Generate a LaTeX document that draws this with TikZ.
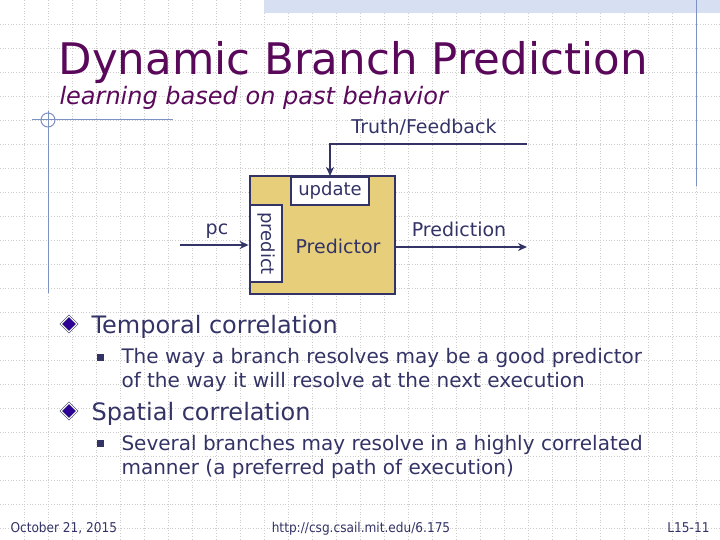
\documentclass[tikz,border=0pt]{standalone}
\usepackage{fontspec}
\setmainfont{DejaVu Sans}
\newfontfamily\footfont{DejaVu Sans Condensed}
\usetikzlibrary{positioning,arrows.meta,shapes.geometric}

\definecolor{titlepurple}{RGB}{90,8,90}
\definecolor{navy}{RGB}{51,51,102}
\definecolor{khaki}{RGB}{230,206,122}
\definecolor{rulerblue}{RGB}{125,145,195}
\definecolor{bandblue}{RGB}{214,224,242}
\definecolor{bulletblue}{RGB}{45,0,150}
\definecolor{gridgray}{RGB}{205,205,205}

\tikzset{
    gridline/.style  = {gridgray, dotted, line width=0.7bp},
    ruler/.style     = {rulerblue, line width=1bp},
    port/.style      = {draw=navy, fill=white, line width=1.8bp, inner sep=0pt, text=navy,
                        font=\fontsize{18bp}{20bp}\selectfont},
    wire/.style      = {navy, line width=2.8bp, -{Stealth[length=9bp,width=8bp]}},
    lbl/.style       = {text=navy, font=\fontsize{19bp}{22bp}\selectfont},
    headline/.style  = {anchor=base west, text=navy, font=\fontsize{24bp}{28bp}\selectfont},
    bodyline/.style  = {anchor=base west, text=navy, font=\fontsize{20bp}{24bp}\selectfont},
    foot/.style      = {text=navy, font=\footfont\fontsize{13.5bp}{15bp}\selectfont},
    bigbullet/.style = {diamond, draw=navy, double=white, double distance=1.2bp, line width=0.5bp,
                        fill=bulletblue, inner sep=0pt, minimum size=16bp},
    smallbullet/.style = {rectangle, fill=navy, inner sep=0pt, minimum size=7bp}
}

\begin{document}
\begin{tikzpicture}[x=1bp, y=-1bp]
    \useasboundingbox (0,0) rectangle (720,540);

    % background grid
    \foreach \gx in {24,48,...,696} \draw[gridline] (\gx,0) -- (\gx,540);
    \foreach \gy in {24,48,...,528} \draw[gridline] (0,\gy) -- (720,\gy);

    % slide decoration
    \fill[bandblue] (264,0) rectangle (720,13);
    \draw[ruler] (32,120) -- (173,120);
    \draw[ruler] (48,111) -- (48,293);
    \draw[ruler] (48,120) circle (7);
    \draw[ruler] (696,0) -- (696,186);

    % title
    \node[anchor=base west, text=titlepurple, font=\fontsize{43.5bp}{50bp}\selectfont]
        (title) at (55,75) {Dynamic Branch Prediction};
    \node[anchor=base west, text=titlepurple, font=\fontsize{24bp}{28bp}\itshape]
        (subtitle) at (56,105) {learning based on past behavior};

    % predictor block
    \node[draw=navy, fill=khaki, line width=2.8bp, minimum width=145bp, minimum height=118bp]
        (box) at (322.5,235) {};
    \node[port, anchor=north, minimum width=78bp, minimum height=28bp] (upd) at (330,176) {update};
    \node[port, rotate=-90, minimum width=77bp, minimum height=32bp] (prd) at (266,243.5) {predict};
    \node[lbl] (ptxt) at (338,246) {Predictor};

    % connectors
    \coordinate (fb)   at (527,144);
    \coordinate (pcin) at (180,245);
    \coordinate (out)  at (527,247);
    \draw[wire] (fb) -| (upd.north);
    \draw[wire] (pcin) -- (pcin -| box.west);
    \draw[wire] (out -| box.east) -- (out);

    \node[lbl] (fblbl)   at (424,127) {Truth/Feedback};
    \node[lbl] (pclbl)   at (217,231) {pc};
    \node[lbl] (predlbl) at (459,229) {Prediction};

    % bullets
    \node[bigbullet] (b1) at (69,324) {};
    \node[headline] (h1) at (88,333) {Temporal correlation};
    \node[smallbullet] (s1) at (100,357) {};
    \node[bodyline] (t1a) at (118,363) {The way a branch resolves may be a good predictor};
    \node[bodyline] (t1b) at (118,387) {of the way it will resolve at the next execution};

    \node[bigbullet] (b2) at (69,411) {};
    \node[headline] (h2) at (88,420) {Spatial correlation};
    \node[smallbullet] (s2) at (100,443) {};
    \node[bodyline] (t2a) at (118,450) {Several branches may resolve in a highly correlated};
    \node[bodyline] (t2b) at (118,474) {manner (a preferred path of execution)};

    % footer
    \node[foot, anchor=base west] (date) at (7,532) {October 21, 2015};
    \node[foot, anchor=base] (url) at (361,532) {http://csg.csail.mit.edu/6.175};
    \node[foot, anchor=base east] (page) at (713,532) {L15-11};
\end{tikzpicture}
\end{document}
